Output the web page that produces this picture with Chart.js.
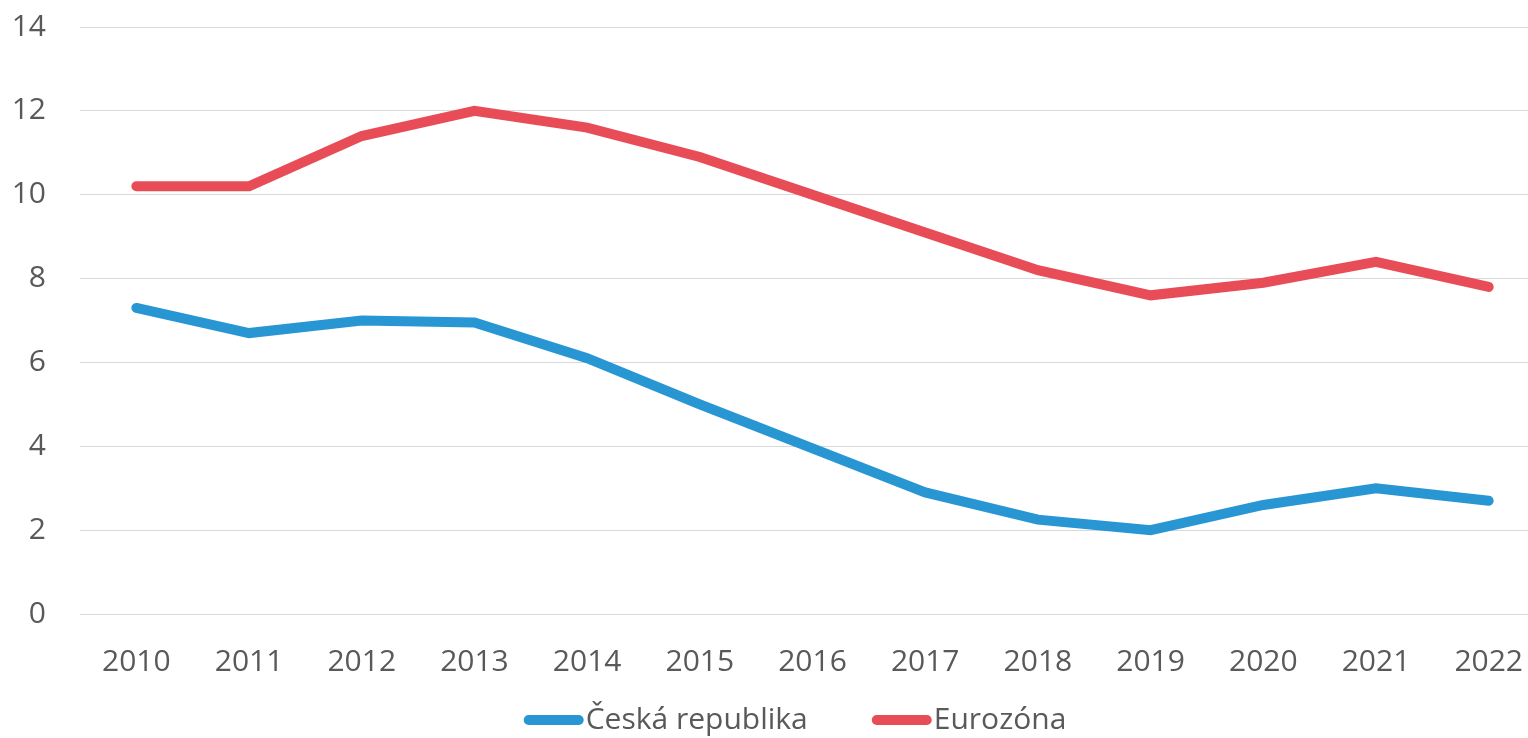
<!DOCTYPE html>
<html>
<head>
<meta charset="utf-8">
<script src="https://cdn.jsdelivr.net/npm/chart.js@4"></script>
<style>
  html, body { margin: 0; padding: 0; background: #fff; overflow: hidden; }
  #wrap { width: 1553px; height: 738px; position: relative; }
</style>
</head>
<body>
<div id="wrap"><canvas id="chart"></canvas></div>
<script>
const years = ["2010", "2011", "2012", "2013", "2014", "2015", "2016", "2017", "2018", "2019", "2020", "2021", "2022"];
const ceskaRepublika = [7.3, 6.7, 7.0, 6.95, 6.1, 5.0, 3.95, 2.9, 2.25, 2.0, 2.6, 3.0, 2.7];
const eurozona = [10.2, 10.2, 11.4, 12.0, 11.6, 10.9, 10.0, 9.1, 8.2, 7.6, 7.9, 8.4, 7.8];
const yTicks = [0, 2, 4, 6, 8, 10, 12, 14];

const FONT = "'Open Sans', 'Noto Sans', sans-serif";
const FONT_SIZE = 30;
const TEXT_COLOR = "#595959";

// legend drawn by hand: swatch touching the text, like the original
const lineLegend = {
  id: "lineLegend",
  afterDraw(chart) {
    const ctx = chart.ctx;
    const sets = chart.data.datasets;
    const swatch = 60, gap = 2, spacing = 64;
    ctx.save();
    ctx.font = FONT_SIZE + "px " + FONT;
    let total = 0;
    sets.forEach((ds, i) => {
      total += swatch + gap + ctx.measureText(ds.label).width;
      if (i < sets.length - 1) total += spacing;
    });
    let x = 795 - total / 2;
    const y = 720;
    sets.forEach((ds) => {
      ctx.strokeStyle = ds.borderColor;
      ctx.lineWidth = 10;
      ctx.lineCap = "round";
      ctx.beginPath();
      ctx.moveTo(x + 5, y);
      ctx.lineTo(x + swatch - 5, y);
      ctx.stroke();
      x += swatch + gap;
      ctx.fillStyle = TEXT_COLOR;
      ctx.textBaseline = "middle";
      ctx.textAlign = "left";
      ctx.fillText(ds.label, x, y);
      x += ctx.measureText(ds.label).width + spacing;
    });
    ctx.restore();
  },
};

const ctx = document.getElementById("chart").getContext("2d");
new Chart(ctx, {
  type: "line",
  data: {
    labels: years,
    datasets: [
      {
        label: "Česká republika",
        data: ceskaRepublika,
        borderColor: "#2996d4",
        backgroundColor: "#2996d4",
        borderWidth: 10,
        borderCapStyle: "round",
        pointRadius: 0,
        tension: 0,
      },
      {
        label: "Eurozóna",
        data: eurozona,
        borderColor: "#e84c56",
        backgroundColor: "#e84c56",
        borderWidth: 10,
        borderCapStyle: "round",
        pointRadius: 0,
        tension: 0,
      },
    ],
  },
  options: {
    responsive: true,
    maintainAspectRatio: false,
    animation: false,
    layout: { padding: { top: 27, bottom: 28, right: 0, left: 0 } },
    plugins: {
      legend: { display: false },
      tooltip: { enabled: false },
    },
    scales: {
      x: {
        offset: true,
        grid: { display: false, drawTicks: false },
        border: { display: false },
        ticks: {
          color: TEXT_COLOR,
          font: { family: FONT, size: FONT_SIZE },
          padding: 30,
          maxRotation: 0,
          autoSkip: false,
        },
      },
      y: {
        min: 0,
        max: 14,
        afterFit(scale) {
          scale.width = 80;
          scale.paddingTop = 0;
          scale.paddingBottom = 0;
        },
        afterBuildTicks(scale) { scale.ticks = yTicks.map((v) => ({ value: v })); },
        grid: { color: "#d9d9d9", lineWidth: 1, drawTicks: false },
        border: { display: false },
        ticks: {
          color: TEXT_COLOR,
          font: { family: FONT, size: FONT_SIZE },
          padding: 34,
        },
      },
    },
  },
  plugins: [lineLegend],
});
</script>
</body>
</html>
